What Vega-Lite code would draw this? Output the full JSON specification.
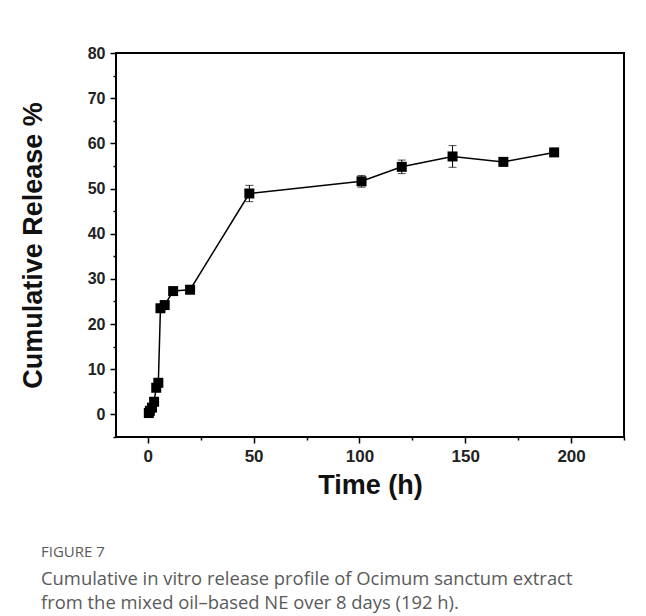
{
  "$schema": "https://vega.github.io/schema/vega-lite/v6.json",
  "width": 508,
  "height": 384,
  "autosize": {"type": "none"},
  "padding": {"left": 116, "top": 53, "right": 22, "bottom": 179},
  "background": "white",
  "config": {
    "font": "Liberation Sans",
    "view": {"stroke": "black", "strokeWidth": 2}
  },
  "title": {
    "text": "FIGURE 7",
    "subtitle": [
      "Cumulative in vitro release profile of Ocimum sanctum extract",
      "from the mixed oil–based NE over 8 days (192 h)."
    ],
    "orient": "bottom",
    "anchor": "start",
    "frame": "group",
    "dx": -75,
    "offset": 47,
    "font": "Open Sans",
    "fontSize": 15,
    "fontWeight": "normal",
    "color": "#5a5a5a",
    "subtitleFont": "Open Sans",
    "subtitleFontSize": 18.4,
    "subtitleColor": "#5a5a5a",
    "subtitleLineHeight": 24,
    "subtitlePadding": 10
  },
  "data": {
    "values": [
      {"t": 0.5, "v": 0.3, "lo": 0.0, "hi": 0.6},
      {"t": 1, "v": 0.8, "lo": 0.4, "hi": 1.2},
      {"t": 2, "v": 1.5, "lo": 1.1, "hi": 1.9},
      {"t": 3, "v": 2.8, "lo": 2.4, "hi": 3.2},
      {"t": 4, "v": 5.9, "lo": 5.5, "hi": 6.3},
      {"t": 5, "v": 7.0, "lo": 6.6, "hi": 7.4},
      {"t": 6, "v": 23.5, "lo": 23.1, "hi": 23.9},
      {"t": 8, "v": 24.2, "lo": 23.8, "hi": 24.6},
      {"t": 12, "v": 27.3, "lo": 26.9, "hi": 27.7},
      {"t": 20, "v": 27.6, "lo": 27.2, "hi": 28.0},
      {"t": 48, "v": 48.9, "lo": 47.1, "hi": 50.7},
      {"t": 101, "v": 51.6, "lo": 50.3, "hi": 52.9},
      {"t": 120, "v": 54.8, "lo": 53.3, "hi": 56.3},
      {"t": 144, "v": 57.1, "lo": 54.7, "hi": 59.5},
      {"t": 168, "v": 55.9, "lo": 55.4, "hi": 56.4},
      {"t": 192, "v": 58.0, "lo": 57.5, "hi": 58.5}
    ]
  },
  "resolve": {"axis": {"x": "independent", "y": "independent"}},
  "layer": [
    {
      "mark": {"type": "rule", "color": "black", "strokeWidth": 1},
      "encoding": {
        "x": {
          "field": "t", "type": "quantitative",
          "scale": {"domain": [-15, 225], "nice": false, "zero": false},
          "axis": {
            "orient": "bottom",
            "values": [0, 50, 100, 150, 200],
            "domain": false,
            "grid": false,
            "tickColor": "black", "tickWidth": 1.5, "tickSize": 6,
            "labelFont": "Liberation Sans", "labelFontWeight": "bold", "labelFontSize": 17,
            "labelColor": "#222", "labelPadding": 5,
            "title": "Time (h)",
            "titleFont": "Liberation Sans", "titleFontWeight": "bold", "titleFontSize": 27,
            "titleColor": "#111", "titlePadding": 8
          }
        },
        "y": {
          "field": "lo", "type": "quantitative",
          "scale": {"domain": [-5, 80], "nice": false, "zero": false},
          "axis": {
            "orient": "left",
            "values": [0, 10, 20, 30, 40, 50, 60, 70, 80],
            "domain": false,
            "grid": false,
            "tickColor": "black", "tickWidth": 1.5, "tickSize": 6,
            "labelFont": "Liberation Sans", "labelFontWeight": "bold", "labelFontSize": 16,
            "labelColor": "#222", "labelPadding": 5,
            "title": "Cumulative Release %",
            "titleFont": "Liberation Sans", "titleFontWeight": "bold", "titleFontSize": 27,
            "titleColor": "#111", "titlePadding": 40
          }
        },
        "y2": {"field": "hi"}
      }
    },
    {
      "mark": {"type": "line", "color": "black", "strokeWidth": 1.5},
      "encoding": {
        "x": {
          "field": "t", "type": "quantitative",
          "axis": {
            "orient": "bottom",
            "values": [25, 75, 125, 175, 225],
            "domain": false, "grid": false, "labels": false, "title": null,
            "tickColor": "black", "tickWidth": 1.5, "tickSize": 3
          }
        },
        "y": {
          "field": "v", "type": "quantitative",
          "axis": {
            "orient": "left",
            "values": [-5, 5, 15, 25, 35, 45, 55, 65, 75],
            "domain": false, "grid": false, "labels": false, "title": null,
            "tickColor": "black", "tickWidth": 1.5, "tickSize": 3
          }
        }
      }
    },
    {
      "mark": {"type": "tick", "orient": "horizontal", "color": "black", "size": 8, "thickness": 1},
      "encoding": {
        "x": {"field": "t", "type": "quantitative", "axis": null},
        "y": {"field": "lo", "type": "quantitative", "axis": null}
      }
    },
    {
      "mark": {"type": "tick", "orient": "horizontal", "color": "black", "size": 8, "thickness": 1},
      "encoding": {
        "x": {"field": "t", "type": "quantitative", "axis": null},
        "y": {"field": "hi", "type": "quantitative", "axis": null}
      }
    },
    {
      "mark": {"type": "point", "shape": "square", "filled": true, "color": "black", "size": 100, "opacity": 1},
      "encoding": {
        "x": {"field": "t", "type": "quantitative", "axis": null},
        "y": {"field": "v", "type": "quantitative", "axis": null}
      }
    }
  ]
}
